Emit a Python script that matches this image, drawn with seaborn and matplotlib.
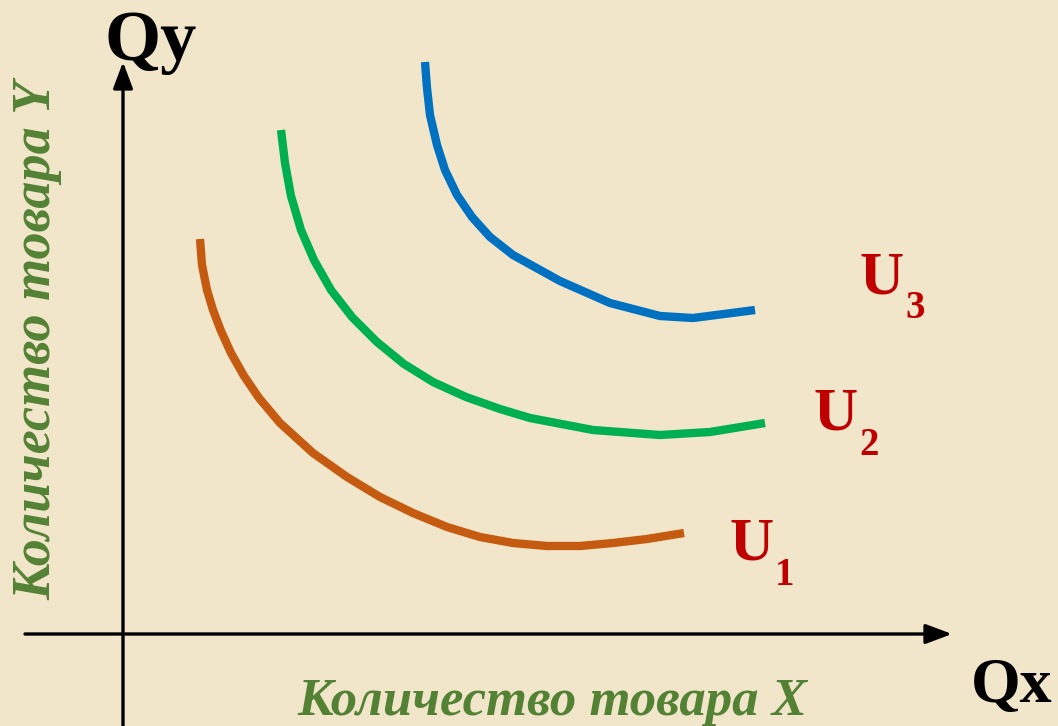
import numpy as np
import matplotlib.pyplot as plt
import seaborn as sns

# indifference curves (origin = axis crossing)
u1_x = [0.77, 0.79, 0.84, 0.90, 0.98, 1.08, 1.21, 1.36, 1.57, 1.90, 2.24,
        2.57, 2.90, 3.24, 3.57, 3.90, 4.24, 4.57, 4.90, 5.24, 5.61]
u1_y = [3.95, 3.69, 3.44, 3.24, 3.03, 2.81, 2.58, 2.36, 2.11, 1.81, 1.57,
        1.37, 1.21, 1.07, 0.97, 0.91, 0.88, 0.88, 0.91, 0.95, 1.01]

u2_x = [1.58, 1.62, 1.68, 1.78, 1.91, 2.08, 2.29, 2.54, 2.81, 3.10, 3.43,
        3.77, 4.07, 4.70, 5.37, 5.87, 6.42]
u2_y = [5.04, 4.71, 4.38, 4.04, 3.74, 3.44, 3.17, 2.92, 2.70, 2.52, 2.37,
        2.25, 2.16, 2.04, 1.99, 2.02, 2.11]

u3_x = [3.02, 3.04, 3.07, 3.14, 3.22, 3.34, 3.49, 3.67, 3.90, 4.37, 4.87,
        5.37, 5.70, 6.32]
u3_y = [5.72, 5.46, 5.19, 4.89, 4.64, 4.39, 4.17, 3.97, 3.79, 3.53, 3.31,
        3.18, 3.16, 3.24]

curve_names = ["1", "2", "3"]
x_label = "Количество товара X"
y_label = "Количество товара Y"

bg = "#F2E6CA"
sns.set_theme(style="white")
plt.rcParams['font.family'] = ['Liberation Serif', 'DejaVu Serif']

fig = plt.figure(figsize=(10.58, 7.26), dpi=100, facecolor=bg)
ax = fig.add_axes([0, 0, 1, 1])
ax.set_facecolor(bg)
ax.set_xlim(-1.23, 9.35)
ax.set_ylim(-0.92, 6.34)
ax.axis('off')

# axes with arrows
arr = dict(arrowstyle='-|>,head_length=0.8,head_width=0.3', lw=2.4,
           color='black', mutation_scale=20, shrinkA=0, shrinkB=0)
ax.annotate('', xy=(8.29, 0), xytext=(-0.98, 0), arrowprops=arr)
ax.annotate('', xy=(0, 5.72), xytext=(0, -0.92), arrowprops=arr)

colors = ["#C55A11", "#00B050", "#0070C0"]
for xs, ys, c in zip([u1_x, u2_x, u3_x], [u1_y, u2_y, u3_y], colors):
    sns.lineplot(x=xs, y=ys, sort=False, ax=ax, color=c, lw=6,
                 solid_capstyle='butt', solid_joinstyle='round')

# curve labels U1, U2, U3
lab_pos = [(6.29, 0.74), (7.13, 2.04), (7.59, 3.41)]
red = "#C00000"
for (lx, ly), n in zip(lab_pos, curve_names):
    ax.text(lx, ly, "U", color=red, fontsize=44, fontweight='bold',
            ha='center', va='baseline')
    ax.text(lx + 0.33, ly - 0.25, n, color=red, fontsize=28,
            fontweight='bold', ha='center', va='baseline')

ax.text(-0.18, 5.74, "Qy", fontsize=52, fontweight='bold', ha='left',
        va='baseline', color='black')
ax.text(9.30, -0.68, "Qx", fontsize=46, fontweight='bold', ha='right',
        va='baseline', color='black')

green = "#548235"
ax.text(4.29, -0.81, x_label, fontsize=38, fontweight='bold', style='italic',
        color=green, ha='center', va='baseline')
ax.text(-0.86, 2.94, y_label, fontsize=39, fontweight='bold', style='italic',
        color=green, ha='center', va='center', rotation=90)

plt.savefig('out.png', dpi=100, facecolor=bg)
